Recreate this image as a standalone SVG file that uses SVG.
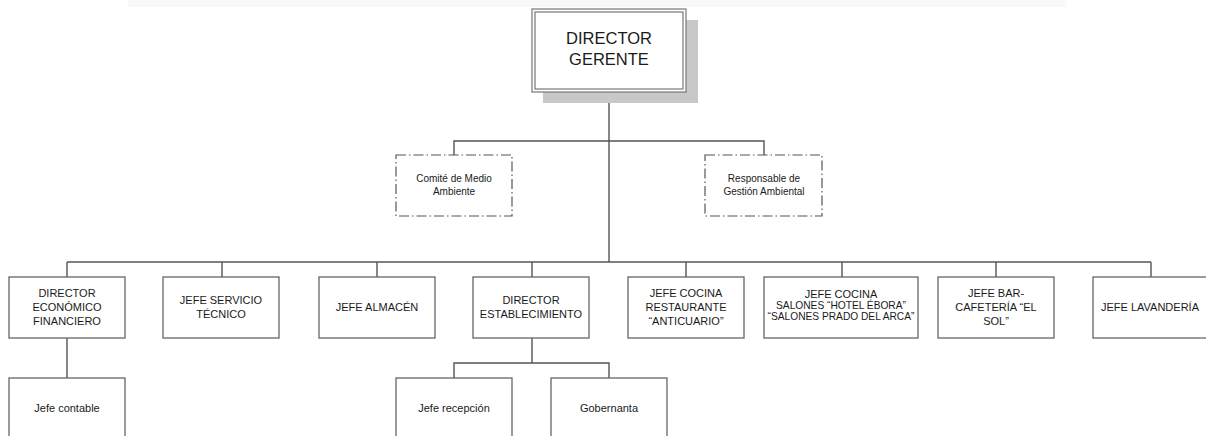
<svg xmlns="http://www.w3.org/2000/svg" width="1206" height="436" viewBox="0 0 1206 436">
<style>
.box{fill:#fff;stroke:#666;stroke-width:1.3}
.dash{fill:#fff;stroke:#555;stroke-width:1.2;stroke-dasharray:10 3 1.5 3}
.ln{fill:none;stroke:#555;stroke-width:1.4}
text{font-family:"Liberation Sans",Arial,sans-serif;fill:#1a1a1a;text-anchor:middle}
.t11{font-size:11px}
.t10{font-size:10px}
.t9{font-size:10.2px}
.t16{font-size:16.5px}
</style>
<rect x="128" y="0" width="938" height="7" fill="#f9f9f9"/>
<g id="connectors">
<path class="ln" d="M609 92V262M67 262H1151M454 155V141H764V155"/>
<path class="ln" d="M67 262V277M222 262V277M377 262V277M532 262V277M686 262V277M842 262V277M996 262V277M1151 262V277"/>
<path class="ln" d="M67 338V378M532 338V363M454 378V363H609V378"/>
</g>
<g id="director-gerente">
<rect x="543" y="20" width="155" height="83" fill="#c8c8c8"/>
<rect x="532" y="9" width="154" height="83" fill="#fff" stroke="#777" stroke-width="1.2"/>
<rect x="535" y="12" width="148" height="77" fill="none" stroke="#777" stroke-width="1.2"/>
<text class="t16" x="609" y="44">DIRECTOR</text>
<text class="t16" x="609" y="65">GERENTE</text>
</g>
<g id="comite">
<rect class="dash" x="396" y="155" width="116" height="61"/>
<text class="t10" x="454" y="182">Comité de Medio</text>
<text class="t10" x="454" y="195">Ambiente</text>
</g>
<g id="responsable">
<rect class="dash" x="705" y="155" width="117" height="61"/>
<text class="t10" x="764" y="182">Responsable de</text>
<text class="t10" x="764" y="195">Gestión Ambiental</text>
</g>
<g id="dir-economico">
<rect class="box" x="9" y="277" width="116" height="61"/>
<text class="t11" x="67" y="297">DIRECTOR</text>
<text class="t11" x="67" y="311">ECONÓMICO</text>
<text class="t11" x="67" y="325">FINANCIERO</text>
</g>
<g id="jefe-servicio">
<rect class="box" x="163" y="277" width="116" height="61"/>
<text class="t11" x="221" y="304">JEFE SERVICIO</text>
<text class="t11" x="221" y="318">TÉCNICO</text>
</g>
<g id="jefe-almacen">
<rect class="box" x="319" y="277" width="116" height="61"/>
<text class="t11" x="377" y="311">JEFE ALMACÉN</text>
</g>
<g id="dir-establecimiento">
<rect class="box" x="473" y="277" width="116" height="61"/>
<text class="t11" x="531" y="304">DIRECTOR</text>
<text class="t11" x="531" y="318">ESTABLECIMIENTO</text>
</g>
<g id="jefe-cocina-rest">
<rect class="box" x="628" y="277" width="116" height="61"/>
<text class="t11" x="686" y="297">JEFE COCINA</text>
<text class="t11" x="686" y="311">RESTAURANTE</text>
<text class="t11" x="686" y="325">“ANTICUARIO”</text>
</g>
<g id="jefe-cocina-salones">
<rect class="box" x="764" y="277" width="154" height="61"/>
<text class="t11" x="841" y="298">JEFE COCINA</text>
<text class="t9" x="841" y="309">SALONES “HOTEL ÉBORA”</text>
<text class="t9" x="841" y="320">“SALONES PRADO DEL ARCA”</text>
</g>
<g id="jefe-bar">
<rect class="box" x="938" y="277" width="116" height="61"/>
<text class="t11" x="996" y="297">JEFE BAR-</text>
<text class="t11" x="996" y="311">CAFETERÍA “EL</text>
<text class="t11" x="996" y="325">SOL”</text>
</g>
<g id="jefe-lavanderia">
<rect class="box" x="1093" y="277" width="118" height="61"/>
<text class="t11" x="1150" y="311">JEFE LAVANDERÍA</text>
</g>
<g id="jefe-contable">
<rect class="box" x="9" y="378" width="116" height="62"/>
<text class="t11" x="67" y="412">Jefe contable</text>
</g>
<g id="jefe-recepcion">
<rect class="box" x="396" y="378" width="116" height="62"/>
<text class="t11" x="454" y="412">Jefe recepción</text>
</g>
<g id="gobernanta">
<rect class="box" x="551" y="378" width="116" height="62"/>
<text class="t11" x="609" y="412">Gobernanta</text>
</g>
</svg>
